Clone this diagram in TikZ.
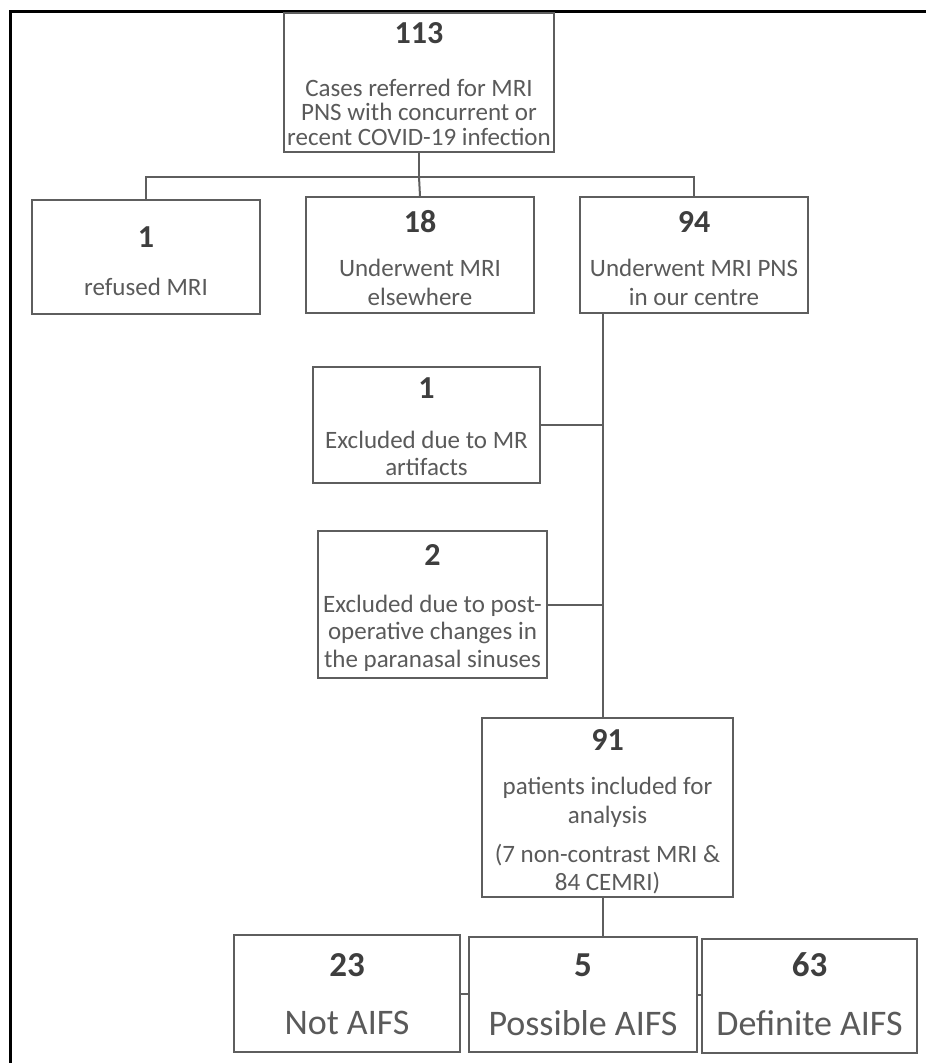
\documentclass[tikz,border=0pt]{standalone}
\usepackage{fontspec}
\setmainfont{Carlito}
\definecolor{boxgray}{HTML}{5E5E5E}
\definecolor{txtgray}{HTML}{5A5A5A}
\definecolor{numgray}{HTML}{3E3E3E}
\begin{document}
\begin{tikzpicture}[x=1pt,y=-1pt,
  box/.style={draw=boxgray,line width=2pt,fill=white,rectangle,inner sep=0pt},
  conn/.style={draw=boxgray,line width=2pt},
  num/.style={text=numgray,font=\fontsize{32}{34}\selectfont\bfseries,inner sep=0pt},
  bignum/.style={text=numgray,font=\fontsize{35}{37}\selectfont\bfseries,inner sep=0pt},
  txt/.style={text=txtgray,align=center,inner sep=0pt},
  bigtxt/.style={text=txtgray,font=\fontsize{36}{38}\selectfont,inner sep=0pt}]
\useasboundingbox (0,0) rectangle (926,1063);
\fill[white] (0,0) rectangle (926,1063);
% frame (left and top)
\draw[line width=3pt,black] (10,1063) -- (10,11) -- (926,11);

% boxes
\node[box,minimum width=270pt,minimum height=139pt] (top) at (419,82.5) {};
\node[box,minimum width=228pt,minimum height=114pt] (b1) at (146,257) {};
\node[box,minimum width=228pt,minimum height=116pt] (b2) at (420,255) {};
\node[box,minimum width=228pt,minimum height=116pt] (b3) at (694,255) {};
\node[box,minimum width=227pt,minimum height=116pt] (e1) at (426.5,425) {};
\node[box,minimum width=229pt,minimum height=147pt] (e2) at (432.5,604.5) {};
\node[box,minimum width=251pt,minimum height=179pt] (r91) at (607.5,807.5) {};
\node[box,minimum width=226pt,minimum height=117pt] (ba) at (347,993.5) {};
\node[box,minimum width=228pt,minimum height=115pt] (bb) at (583,994.5) {};
\node[box,minimum width=215pt,minimum height=114pt] (bc) at (809.5,996) {};

% texts
\node[num] (topn) at (419,33) {113};
\node[txt,font=\fontsize{25}{24.5}\selectfont] (topt) at (419,112) {Cases referred for MRI\\PNS with concurrent or\\recent COVID-19 infection};
\node[num] (b1n) at (146,237) {1};
\node[txt,font=\fontsize{25}{29}\selectfont] (b1t) at (146,287) {refused MRI};
\node[num] (b2n) at (420,222) {18};
\node[txt,font=\fontsize{25}{29}\selectfont] (b2t) at (420,282.5) {Underwent MRI\\elsewhere};
\node[num] (b3n) at (694,222) {94};
\node[txt,font=\fontsize{25}{29}\selectfont] (b3t) at (694,282.5) {Underwent MRI PNS\\in our centre};
\node[num] (e1n) at (426.5,388) {1};
\node[txt,font=\fontsize{25}{27}\selectfont] (e1t) at (426.5,453.5) {Excluded due to MR\\artifacts};
\node[num] (e2n) at (432.5,555) {2};
\node[txt,font=\fontsize{25}{27.5}\selectfont] (e2t) at (432.5,633) {Excluded due to post-\\operative changes in\\the paranasal sinuses};
\node[num] (r91n) at (607.5,740) {91};
\node[txt,font=\fontsize{25}{29}\selectfont] (r91t) at (607.5,802.5) {patients included for\\analysis};
\node[txt,font=\fontsize{25}{28}\selectfont] (r91u) at (607.5,869) {(7 non-contrast MRI \&\\84 CEMRI)};
\node[bignum] (ban) at (347,965) {23};
\node[bigtxt] (bat) at (347,1023) {Not AIFS};
\node[bignum] (bbn) at (583,965) {5};
\node[bigtxt] (bbt) at (583,1023) {Possible AIFS};
\node[bignum] (bcn) at (809.5,965) {63};
\node[bigtxt] (bct) at (809.5,1023) {Definite AIFS};

% connectors
\coordinate (bus) at (419,177);
\coordinate (sp) at (603,313);
\draw[conn] (top.south) -- (bus);
\draw[conn] (b1.north) |- (bus) -| (b3.north);
\draw[conn] (bus) -- (b2.north);
\draw[conn] (sp) -- (sp |- r91.north);
\draw[conn] (e1.east) -- (e1.east -| sp);
\draw[conn] (e2.east) -- (e2.east -| sp);
\draw[conn] (sp |- r91.south) -- (sp |- bb.north);
\draw[conn] (ba.east) -- (ba.east -| bb.west);
\draw[conn] (bb.east) -- (bb.east -| bc.west);
\end{tikzpicture}
\end{document}
